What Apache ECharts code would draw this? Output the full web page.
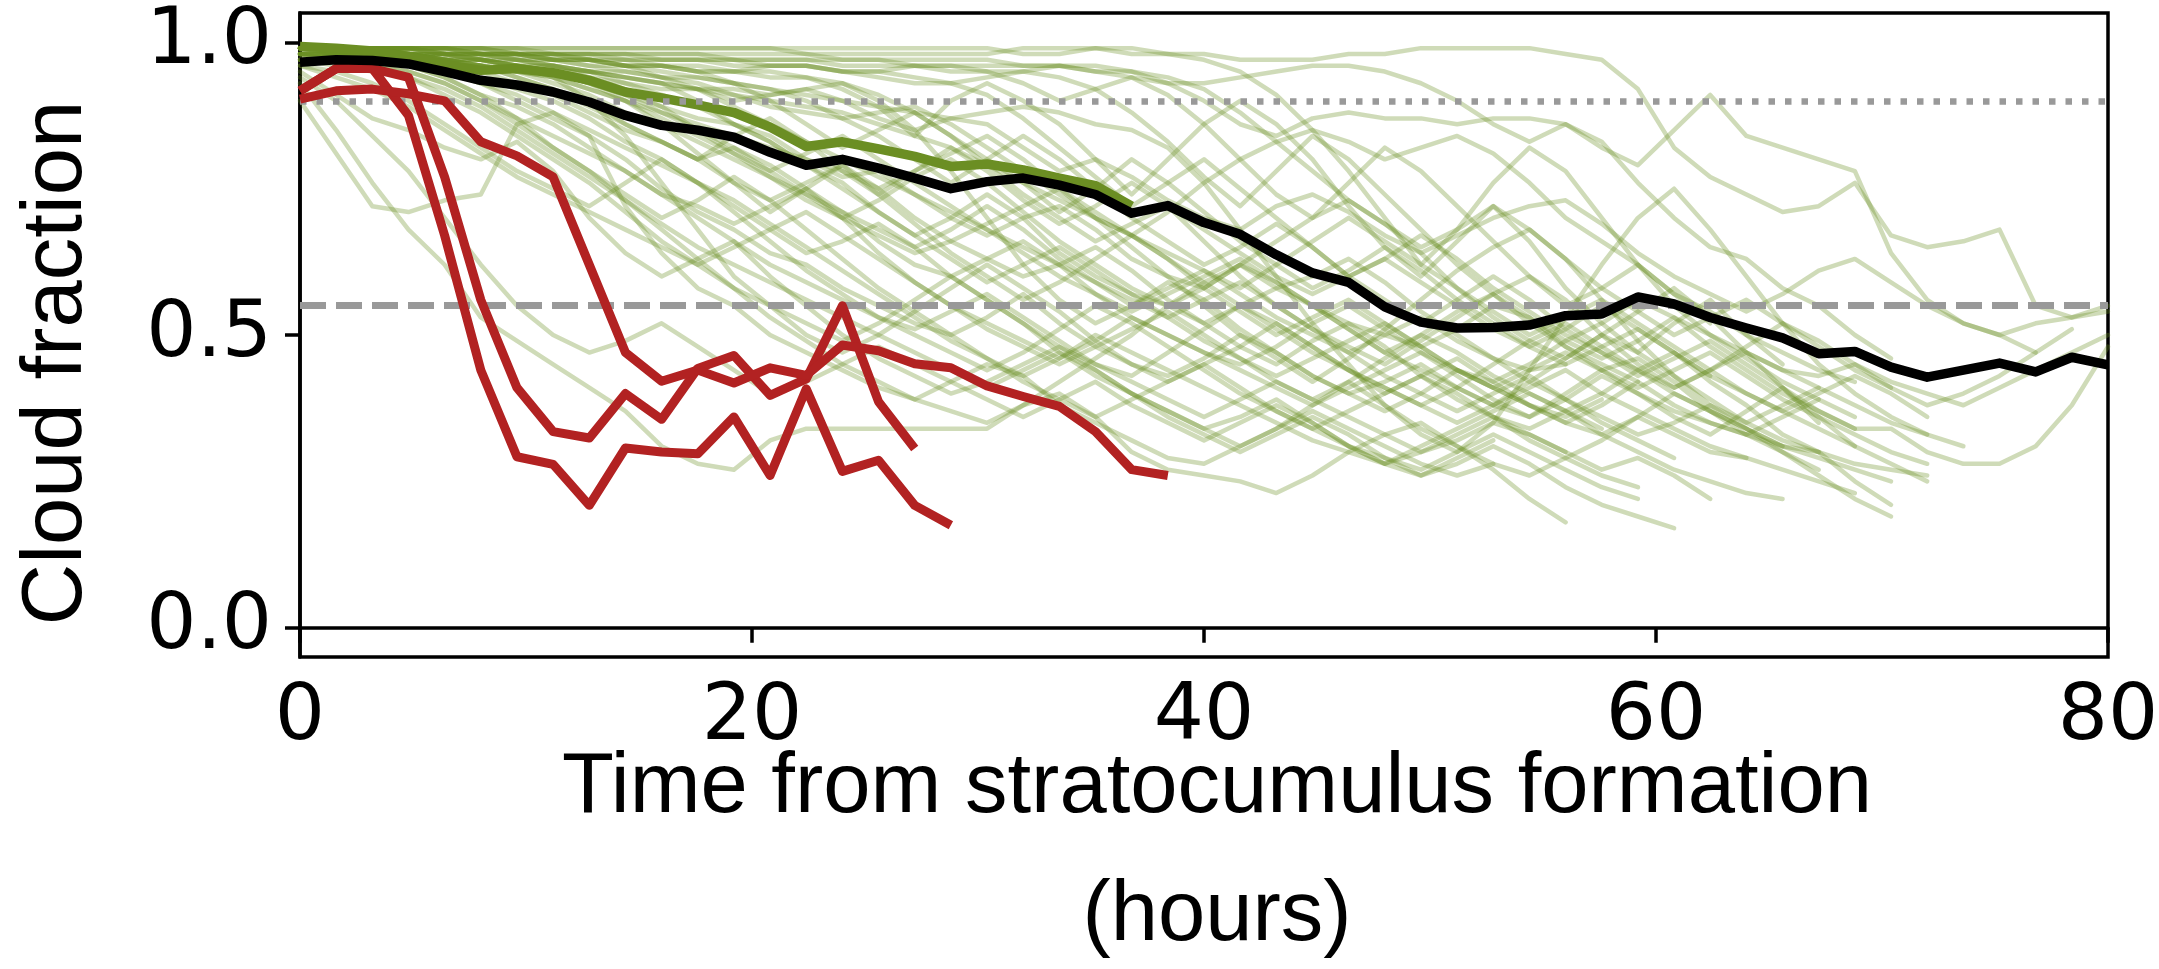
<!DOCTYPE html>
<html>
<head>
<meta charset="utf-8">
<script src="https://cdn.jsdelivr.net/npm/echarts@6/dist/echarts.min.js"></script>
<style>
html,body{margin:0;padding:0;background:#fff;}
#chart{width:2159px;height:969px;}
</style>
</head>
<body>
<div id="chart"></div>
<script>
// time axis (hours from stratocumulus formation), one sample every 1.6 h
const hours = [0,1.6,3.2,4.8,6.4,8,9.6,11.2,12.8,14.4,16,17.6,19.2,20.8,22.4,24,25.6,27.2,28.8,30.4,32,33.6,35.2,36.8,38.4,40,41.6,43.2,44.8,46.4,48,49.6,51.2,52.8,54.4,56,57.6,59.2,60.8,62.4,64,65.6,67.2,68.8,70.4,72,73.6,75.2,76.8,78.4,80];

const xTicks = [0, 20, 40, 60, 80];
const yTicks = [0, 0.5, 1.0];
const thresholdDotted = 0.9;
const thresholdDashed = 0.55;

// black mean curve
const meanAll = [0.966,0.970,0.969,0.963,0.950,0.935,0.927,0.915,0.898,0.875,0.858,0.850,0.838,0.812,0.790,0.800,0.785,0.768,0.750,0.762,0.768,0.756,0.740,0.708,0.721,0.692,0.672,0.637,0.606,0.590,0.548,0.522,0.512,0.513,0.517,0.533,0.536,0.565,0.553,0.530,0.512,0.495,0.468,0.472,0.445,0.428,0.440,0.452,0.437,0.462,0.449];
// thick green curve
const meanGreen = [0.993,0.990,0.985,0.975,0.962,0.952,0.955,0.948,0.935,0.915,0.905,0.893,0.880,0.855,0.822,0.830,0.818,0.805,0.788,0.792,0.782,0.768,0.755,0.720];
// red cases
const red1 = [0.917,0.955,0.955,0.875,0.670,0.440,0.292,0.279,0.209,0.307,0.300,0.297,0.360,0.260,0.408,0.267,0.286,0.209,0.175];
const red2 = [0.917,0.955,0.955,0.940,0.770,0.560,0.410,0.335,0.324,0.400,0.356,0.443,0.465,0.397,0.425,0.550,0.386,0.306];
const red3 = [0.903,0.917,0.920,0.912,0.900,0.830,0.806,0.770,0.620,0.470,0.421,0.440,0.418,0.444,0.431,0.483,0.473,0.451,0.444,0.413,0.395,0.378,0.335,0.270,0.260];

// individual cases (faint green)
const c01 = [0.99,0.99,0.99,0.99,0.99,0.99,0.99,0.99,0.99,0.99,0.99,0.99,0.99,0.99,0.98,0.98,0.98,0.98,0.98,0.98,0.99,0.99,0.99,0.98,0.98,0.98,0.97,0.97,0.97,0.98,0.98,0.99,0.99,0.99,0.99,0.98,0.97,0.92,0.82,0.77,0.74,0.71,0.72,0.76,0.67,0.65,0.66,0.68,0.55,0.53,0.55];
const c02 = [0.99,0.99,0.99,0.99,0.99,0.99,0.98,0.98,0.98,0.98,0.98,0.98,0.98,0.98,0.98,0.97,0.97,0.97,0.97,0.97,0.96,0.96,0.95,0.94,0.93,0.93,0.94,0.95,0.96,0.96,0.95,0.93,0.90,0.86,0.83,0.86,0.82,0.79,0.85,0.91,0.84,0.82,0.80,0.78,0.64,0.56,0.52,0.50,0.47];
const c03 = [0.98,0.98,0.99,0.99,0.99,0.98,0.98,0.97,0.97,0.96,0.96,0.95,0.95,0.96,0.96,0.95,0.94,0.93,0.93,0.94,0.95,0.96,0.96,0.95,0.93,0.90,0.86,0.84,0.87,0.88,0.87,0.87,0.86,0.87,0.87,0.86,0.83,0.76,0.70,0.65,0.63,0.58,0.55,0.50,0.46];
const c04 = [0.99,0.99,0.99,0.98,0.98,0.98,0.98,0.97,0.96,0.95,0.94,0.93,0.91,0.89,0.88,0.87,0.88,0.89,0.86,0.82,0.78,0.74,0.70,0.67,0.71,0.76,0.80,0.83,0.85,0.83,0.80,0.82,0.84,0.81,0.76,0.70,0.66,0.62,0.57,0.54,0.50,0.47,0.44,0.42];
const c05 = [0.98,0.98,0.98,0.98,0.97,0.97,0.96,0.95,0.95,0.93,0.92,0.92,0.90,0.91,0.92,0.90,0.87,0.85,0.87,0.86,0.82,0.78,0.80,0.77,0.73,0.70,0.68,0.72,0.74,0.71,0.67,0.64,0.67,0.70,0.72,0.73,0.69,0.64,0.60,0.57,0.54,0.57,0.61,0.63,0.59,0.55,0.52,0.50,0.52,0.53,0.54];
const c06 = [0.99,0.99,0.98,0.98,0.97,0.96,0.96,0.95,0.93,0.91,0.89,0.87,0.86,0.84,0.80,0.77,0.78,0.74,0.70,0.67,0.70,0.72,0.68,0.63,0.60,0.58,0.62,0.59,0.55,0.52,0.50,0.48,0.51,0.55,0.53,0.49,0.46,0.49,0.53,0.50,0.47,0.44,0.43,0.45,0.42,0.40,0.38,0.41,0.44,0.47,0.50];
const c07 = [0.97,0.98,0.98,0.97,0.96,0.96,0.94,0.92,0.90,0.86,0.83,0.80,0.82,0.79,0.75,0.71,0.66,0.62,0.60,0.63,0.66,0.62,0.57,0.53,0.50,0.47,0.45,0.48,0.52,0.55,0.51,0.47,0.44,0.42,0.45,0.49,0.52,0.56,0.53,0.48,0.44,0.40,0.37,0.34,0.34,0.30,0.28,0.28,0.31,0.38,0.48];
const c08 = [0.98,0.98,0.97,0.97,0.96,0.95,0.93,0.91,0.88,0.85,0.83,0.80,0.76,0.73,0.76,0.79,0.75,0.70,0.66,0.63,0.60,0.62,0.65,0.61,0.56,0.52,0.55,0.58,0.55,0.51,0.47,0.50,0.54,0.57,0.60,0.56,0.50,0.45,0.41,0.44,0.48,0.52,0.49,0.45,0.41,0.38,0.40,0.43,0.47,0.51];
const c09 = [0.99,0.98,0.98,0.97,0.95,0.93,0.90,0.87,0.84,0.80,0.75,0.71,0.68,0.64,0.62,0.58,0.55,0.52,0.50,0.53,0.57,0.52,0.48,0.45,0.43,0.46,0.50,0.47,0.43,0.40,0.42,0.45,0.41,0.38,0.36,0.39,0.43,0.40,0.36,0.33,0.37,0.41,0.36,0.31,0.28,0.25];
const c10 = [0.98,0.98,0.97,0.96,0.94,0.91,0.89,0.86,0.82,0.78,0.74,0.72,0.69,0.72,0.75,0.70,0.64,0.59,0.55,0.52,0.49,0.46,0.49,0.53,0.50,0.47,0.44,0.41,0.38,0.41,0.44,0.47,0.43,0.39,0.36,0.40,0.44,0.46,0.42,0.37,0.33,0.30,0.26,0.22,0.19];
const c11 = [0.99,0.99,0.99,0.98,0.98,0.97,0.97,0.96,0.95,0.94,0.93,0.90,0.86,0.83,0.79,0.76,0.71,0.67,0.70,0.74,0.70,0.64,0.60,0.57,0.55,0.52,0.48,0.45,0.49,0.52,0.48,0.43,0.39,0.36,0.34,0.37,0.40,0.44,0.47,0.42,0.38,0.33,0.30,0.25,0.21];
const c12 = [0.99,0.98,0.98,0.97,0.96,0.94,0.92,0.90,0.87,0.83,0.80,0.76,0.72,0.68,0.64,0.66,0.69,0.65,0.60,0.56,0.52,0.48,0.45,0.43,0.47,0.51,0.55,0.52,0.48,0.44,0.40,0.43,0.46,0.42,0.38,0.35,0.38,0.42,0.38,0.35,0.33,0.31,0.30];
const c13 = [0.99,0.99,0.98,0.98,0.97,0.97,0.96,0.95,0.93,0.91,0.88,0.85,0.82,0.78,0.74,0.70,0.73,0.77,0.80,0.76,0.71,0.66,0.62,0.58,0.55,0.58,0.62,0.66,0.70,0.73,0.69,0.64,0.58,0.53,0.49,0.46,0.50,0.54,0.58,0.53,0.47,0.41,0.35];
const c14 = [0.98,0.97,0.96,0.95,0.93,0.90,0.87,0.84,0.81,0.78,0.74,0.70,0.66,0.62,0.59,0.56,0.53,0.51,0.54,0.57,0.53,0.49,0.45,0.42,0.39,0.36,0.39,0.42,0.39,0.36,0.33,0.30,0.32,0.35,0.33,0.30,0.27,0.29,0.26,0.22];
const c15 = [0.97,0.96,0.95,0.94,0.92,0.89,0.85,0.81,0.77,0.73,0.69,0.65,0.62,0.59,0.56,0.53,0.50,0.47,0.44,0.41,0.44,0.47,0.44,0.40,0.36,0.33,0.30,0.33,0.36,0.33,0.29,0.26,0.28,0.31,0.28,0.24,0.21,0.19,0.17];
const c16 = [0.93,0.85,0.76,0.68,0.62,0.53,0.49,0.45,0.41,0.37,0.31,0.28,0.27,0.32,0.34,0.34,0.34,0.34,0.34,0.34,0.38,0.40,0.36,0.30,0.27,0.26,0.25,0.23,0.26,0.30,0.33,0.35,0.31,0.27,0.22,0.18];
const c17 = [0.99,0.99,0.98,0.98,0.97,0.96,0.95,0.93,0.91,0.88,0.86,0.83,0.80,0.77,0.74,0.71,0.68,0.65,0.68,0.72,0.68,0.63,0.59,0.55,0.58,0.61,0.57,0.53,0.50,0.47,0.50,0.53,0.49,0.46,0.44,0.45];
const c18 = [0.90,0.81,0.72,0.71,0.73,0.74,0.86,0.88,0.84,0.72,0.64,0.58,0.55,0.50,0.47,0.44,0.41,0.39,0.42,0.45,0.43,0.38,0.35,0.32,0.29,0.28,0.31,0.34,0.37,0.34,0.31,0.28,0.26,0.28];
const c19 = [0.95,0.91,0.87,0.85,0.82,0.80,0.83,0.78,0.70,0.64,0.60,0.63,0.66,0.60,0.55,0.50,0.46,0.43,0.40,0.42,0.45,0.48,0.44,0.40,0.37,0.34,0.36,0.39,0.35,0.31,0.28,0.30,0.33,0.36,0.32,0.29,0.26,0.24];
const c20 = [0.98,0.98,0.97,0.96,0.94,0.91,0.87,0.82,0.78,0.73,0.68,0.63,0.58,0.53,0.49,0.45,0.42,0.39,0.37,0.35,0.38,0.42,0.46,0.50,0.55,0.59,0.62,0.58,0.60,0.63,0.59,0.54,0.50,0.46,0.42,0.39,0.36,0.33,0.35,0.38,0.34,0.30,0.27];
const c21 = [0.99,0.99,0.99,0.98,0.98,0.97,0.96,0.94,0.90,0.84,0.76,0.68,0.60,0.55,0.50,0.47,0.50,0.54,0.58,0.62,0.58,0.54,0.49,0.45,0.42,0.45,0.48,0.52,0.48,0.44,0.41,0.38,0.41,0.45,0.49,0.52,0.48,0.44,0.40,0.37,0.34,0.31,0.29,0.27,0.25];
const c22 = [0.99,0.99,0.98,0.98,0.97,0.96,0.94,0.92,0.89,0.86,0.83,0.80,0.84,0.87,0.83,0.78,0.74,0.78,0.82,0.78,0.73,0.69,0.72,0.76,0.72,0.66,0.60,0.55,0.51,0.48,0.45,0.49,0.53,0.57,0.53,0.48,0.44,0.41,0.44,0.47,0.43,0.39,0.36,0.33,0.30,0.28];
const c23 = [0.99,0.99,0.99,0.98,0.98,0.97,0.96,0.96,0.95,0.94,0.93,0.92,0.92,0.91,0.92,0.93,0.91,0.88,0.84,0.80,0.76,0.71,0.75,0.80,0.76,0.71,0.66,0.62,0.58,0.61,0.65,0.61,0.56,0.52,0.48,0.51,0.55,0.51,0.47,0.43,0.40,0.37,0.40,0.43,0.40,0.36];
const c24 = [0.99,0.99,0.99,0.99,0.98,0.98,0.98,0.97,0.97,0.96,0.96,0.95,0.95,0.94,0.94,0.93,0.90,0.85,0.78,0.70,0.62,0.56,0.52,0.55,0.59,0.56,0.51,0.47,0.43,0.40,0.37,0.40,0.44,0.41,0.38,0.35,0.33,0.36,0.40,0.37,0.34,0.31];
const c25 = [0.99,0.99,0.98,0.98,0.98,0.97,0.97,0.96,0.95,0.95,0.94,0.94,0.93,0.92,0.91,0.90,0.89,0.88,0.87,0.88,0.89,0.88,0.86,0.85,0.82,0.76,0.68,0.60,0.52,0.45,0.38,0.33,0.30,0.35,0.44,0.53,0.62,0.70,0.75,0.68,0.60,0.52,0.45,0.40,0.36,0.33];
const c26 = [0.98,0.98,0.98,0.97,0.97,0.96,0.95,0.94,0.92,0.90,0.88,0.86,0.84,0.82,0.80,0.78,0.75,0.78,0.81,0.84,0.80,0.75,0.70,0.65,0.60,0.55,0.50,0.46,0.42,0.46,0.51,0.56,0.61,0.65,0.68,0.63,0.56,0.49,0.43,0.38,0.35,0.38,0.41,0.38,0.35,0.33,0.31];
const c27 = [0.97,0.97,0.96,0.94,0.91,0.88,0.84,0.80,0.76,0.71,0.66,0.62,0.58,0.55,0.52,0.49,0.52,0.56,0.60,0.56,0.52,0.47,0.43,0.40,0.37,0.34,0.31,0.34,0.38,0.42,0.38,0.34,0.31,0.28,0.26,0.29,0.32,0.36,0.33,0.30,0.29];
const c28 = [0.99,0.99,0.99,0.99,0.98,0.98,0.97,0.96,0.94,0.92,0.89,0.85,0.81,0.77,0.73,0.70,0.67,0.64,0.66,0.69,0.72,0.75,0.71,0.67,0.63,0.59,0.55,0.51,0.47,0.44,0.41,0.38,0.35,0.38,0.42,0.46,0.50,0.47,0.43,0.39,0.35,0.32,0.30,0.28,0.27,0.26];
const c29 = [0.98,0.97,0.97,0.96,0.95,0.93,0.91,0.88,0.85,0.82,0.79,0.76,0.73,0.69,0.65,0.61,0.57,0.53,0.49,0.46,0.43,0.46,0.50,0.47,0.44,0.41,0.38,0.35,0.32,0.30,0.28,0.31,0.34,0.37,0.40,0.37,0.33,0.30,0.27,0.25,0.23,0.22];
const c30 = [0.96,0.95,0.93,0.90,0.86,0.82,0.78,0.75,0.72,0.76,0.80,0.76,0.71,0.66,0.61,0.57,0.53,0.50,0.47,0.44,0.47,0.51,0.55,0.52,0.48,0.44,0.40,0.37,0.34,0.37,0.40,0.43,0.40,0.36,0.33,0.30];
const c31 = [0.99,0.99,0.98,0.98,0.97,0.97,0.96,0.95,0.93,0.90,0.86,0.81,0.76,0.71,0.75,0.79,0.74,0.69,0.64,0.60,0.56,0.59,0.63,0.67,0.63,0.58,0.54,0.50,0.53,0.56,0.52,0.48,0.44,0.41,0.44,0.47,0.44,0.40,0.37,0.35,0.33,0.36,0.39];
const c32 = [0.99,0.99,0.99,0.98,0.98,0.98,0.97,0.97,0.96,0.96,0.95,0.94,0.93,0.92,0.90,0.87,0.84,0.80,0.76,0.80,0.84,0.80,0.75,0.70,0.66,0.62,0.65,0.69,0.65,0.60,0.56,0.52,0.56,0.60,0.56,0.51,0.47,0.43,0.46,0.49,0.45,0.41,0.37,0.34];
const c33 = [0.97,0.97,0.96,0.95,0.93,0.90,0.86,0.82,0.78,0.74,0.70,0.73,0.77,0.73,0.68,0.63,0.58,0.54,0.50,0.46,0.42,0.39,0.36,0.39,0.42,0.45,0.41,0.37,0.34,0.31,0.29,0.27,0.30,0.33,0.30,0.27,0.24,0.22];
const c34 = [0.99,0.99,0.99,0.99,0.99,0.98,0.98,0.98,0.97,0.97,0.96,0.95,0.93,0.90,0.86,0.82,0.85,0.88,0.84,0.79,0.74,0.70,0.66,0.69,0.72,0.68,0.64,0.60,0.57,0.60,0.63,0.59,0.55,0.51,0.48,0.45,0.48,0.51,0.47,0.43];
const c35 = [0.98,0.98,0.98,0.97,0.97,0.96,0.95,0.95,0.94,0.93,0.91,0.89,0.86,0.83,0.79,0.75,0.71,0.67,0.63,0.59,0.62,0.65,0.61,0.57,0.53,0.49,0.46,0.43,0.46,0.49,0.52,0.48,0.44,0.41,0.38,0.36,0.39];
const c36 = [0.99,0.98,0.98,0.98,0.97,0.96,0.95,0.94,0.92,0.90,0.87,0.84,0.81,0.78,0.81,0.84,0.80,0.76,0.72,0.68,0.64,0.60,0.57,0.54,0.57,0.60,0.63,0.59,0.55,0.51,0.47,0.44,0.41,0.38,0.41,0.44,0.40,0.37,0.34,0.31,0.29,0.27,0.25,0.23];
const c37 = [0.99,0.99,0.99,0.99,0.99,0.99,0.98,0.98,0.98,0.98,0.97,0.97,0.97,0.96,0.96,0.95,0.95,0.94,0.93,0.91,0.87,0.82,0.77,0.72,0.76,0.80,0.75,0.70,0.65,0.60,0.63,0.67,0.63,0.58,0.54,0.50,0.47,0.44,0.41,0.44,0.47,0.44,0.41];
const c38 = [0.99,0.99,0.99,0.99,0.98,0.98,0.98,0.97,0.97,0.96,0.94,0.92,0.89,0.86,0.83,0.80,0.77,0.74,0.71,0.68,0.65,0.62,0.59,0.56,0.53,0.56,0.59,0.55,0.51,0.47,0.43,0.40,0.37,0.40,0.43,0.39,0.35,0.32,0.29];
const c39 = [0.98,0.98,0.98,0.98,0.97,0.97,0.96,0.96,0.95,0.94,0.93,0.92,0.91,0.90,0.89,0.88,0.86,0.84,0.82,0.79,0.76,0.73,0.70,0.67,0.64,0.61,0.58,0.62,0.66,0.70,0.66,0.62,0.58,0.54,0.50,0.53,0.56,0.52,0.48,0.44,0.40,0.37,0.34,0.31];
const c40 = [0.99,0.99,0.99,0.99,0.99,0.99,0.99,0.98,0.98,0.98,0.98,0.98,0.97,0.97,0.97,0.97,0.97,0.96,0.96,0.96,0.96,0.96,0.95,0.95,0.94,0.92,0.88,0.83,0.78,0.73,0.69,0.65,0.68,0.72,0.68,0.63,0.58,0.54,0.50,0.53,0.56,0.52,0.48,0.44,0.41];
const c41 = [0.94,0.90,0.84,0.78,0.70,0.62,0.55,0.50,0.47,0.49,0.52,0.48,0.44,0.40,0.42,0.45,0.48,0.45,0.42,0.39,0.36,0.39,0.42,0.38,0.35,0.32,0.35,0.38,0.35,0.31,0.28,0.26,0.29,0.32];
const c42 = [0.96,0.94,0.92,0.89,0.85,0.81,0.77,0.74,0.71,0.68,0.65,0.62,0.65,0.68,0.71,0.67,0.63,0.59,0.55,0.51,0.48,0.45,0.48,0.51,0.54,0.50,0.46,0.42,0.39,0.42,0.46,0.50,0.47,0.43,0.40,0.37,0.34];
const c43 = [0.99,0.99,0.99,0.99,0.99,0.99,0.99,0.99,0.99,0.99,0.99,0.99,0.99,0.99,0.99,0.99,0.99,0.99,0.99,0.99,0.98,0.98,0.99,0.99,0.98,0.97,0.95,0.91,0.85,0.78,0.70,0.62,0.68,0.76,0.82,0.78,0.70,0.62,0.55,0.50,0.46,0.42,0.39,0.36];
const c44 = [0.99,0.99,0.99,0.98,0.98,0.98,0.97,0.97,0.97,0.96,0.96,0.96,0.95,0.95,0.94,0.92,0.89,0.84,0.90,0.93,0.90,0.86,0.80,0.74,0.80,0.86,0.90,0.86,0.80,0.72,0.65,0.60,0.66,0.72,0.66,0.58,0.52,0.47,0.52,0.56,0.50,0.45];
const c45 = [0.98,0.99,0.99,0.99,0.99,0.98,0.98,0.98,0.97,0.97,0.97,0.97,0.96,0.96,0.96,0.95,0.95,0.96,0.96,0.95,0.93,0.90,0.92,0.94,0.91,0.86,0.80,0.74,0.70,0.76,0.82,0.78,0.72,0.66,0.60,0.55,0.58,0.62,0.57,0.52];
const c46 = [0.99,0.99,0.99,0.99,0.98,0.98,0.98,0.98,0.98,0.97,0.97,0.97,0.97,0.97,0.97,0.96,0.96,0.96,0.95,0.95,0.95,0.94,0.92,0.88,0.83,0.77,0.72,0.78,0.84,0.80,0.74,0.68,0.62,0.57,0.52,0.48,0.45,0.42];

const cases = [c01,c02,c03,c04,c05,c06,c07,c08,c09,c10,c11,c12,c13,c14,c15,c16,c17,c18,c19,c20,c21,c22,c23,c24,c25,c26,c27,c28,c29,c30,c31,c32,c33,c34,c35,c36,c37,c38,c39,c40,c41,c42,c43,c44,c45,c46];
const redCases = [red1, red2, red3];

function pairs(vals){
  return vals.slice(0, hours.length).map((v, i) => [hours[i], v]);
}

const series = [];
cases.forEach((vals, k) => {
  series.push({
    name: 'case' + (k+1), type: 'line', data: pairs(vals), symbol: 'none', silent: true,
    lineStyle: {color: '#6b8e23', width: 4.5, opacity: 0.32, join: 'round', cap: 'round'},
    z: 2
  });
});
// reference thresholds
series.push({
  name: 'thresholds', type: 'line', data: [], symbol: 'none', silent: true, z: 3,
  markLine: {
    silent: true, symbol: ['none','none'], label: {show: false},
    data: [
      {yAxis: thresholdDotted, lineStyle: {color: '#999999', width: 6.5, type: [6.5, 10], cap: 'butt'}},
      {yAxis: thresholdDashed, lineStyle: {color: '#999999', width: 7, type: [26, 10], cap: 'butt'}}
    ],
    animation: false
  }
});
series.push({
  name: 'green mean', type: 'line', data: pairs(meanGreen), symbol: 'none', silent: true, z: 4,
  lineStyle: {color: '#6b8e23', width: 9.5, join: 'round', cap: 'butt'}
});
redCases.forEach((vals, k) => {
  series.push({
    name: 'red' + (k+1), type: 'line', data: pairs(vals), symbol: 'none', silent: true, z: 5,
    lineStyle: {color: '#b22222', width: 9, join: 'round', cap: 'butt'}
  });
});
series.push({
  name: 'mean', type: 'line', data: pairs(meanAll), symbol: 'none', silent: true, z: 6,
  lineStyle: {color: '#000000', width: 9.5, join: 'round', cap: 'butt'}
});

const chart = echarts.init(document.getElementById('chart'), null, {renderer: 'canvas'});
chart.setOption({
  animation: false,
  backgroundColor: '#ffffff',
  grid: {left: 300, right: 51, top: 13, bottom: 312, show: true, borderColor: '#000', borderWidth: 3.5,
    containLabel: false, outerBoundsMode: 'none'},
  xAxis: {
    type: 'value', min: 0, max: 80, interval: 20,
    name: 'Time from stratocumulus formation\n(hours)',
    nameLocation: 'middle', nameGap: 68, nameMoveOverlap: false,
    nameTextStyle: {fontFamily: 'Liberation Sans', fontSize: 85, color: '#000', lineHeight: 128, padding: [0, 0, 0, 26]},
    axisLine: {show: true, lineStyle: {color: '#000', width: 3.5}},
    axisTick: {show: true, length: 15, lineStyle: {color: '#000', width: 3.5}},
    axisLabel: {show: true, margin: 22, fontFamily: 'DejaVu Sans', fontSize: 79, color: '#000',
      customValues: xTicks, formatter: v => String(v)},
    splitLine: {show: false}
  },
  yAxis: {
    type: 'value', min: -0.05, max: 1.05,
    name: 'Cloud fraction',
    nameLocation: 'middle', nameGap: 200, nameMoveOverlap: false,
    nameTextStyle: {fontFamily: 'Liberation Sans', fontSize: 85, color: '#000', padding: [0, 56, 0, 0]},
    axisLine: {show: true, lineStyle: {color: '#000', width: 3.5}},
    axisTick: {show: true, length: 15, lineStyle: {color: '#000', width: 3.5}, customValues: yTicks},
    axisLabel: {show: true, margin: 28, fontFamily: 'DejaVu Sans', fontSize: 79, color: '#000',
      customValues: yTicks, formatter: v => Number(v).toFixed(1)},
    splitLine: {show: false}
  },
  series: series
});
</script>
</body>
</html>
